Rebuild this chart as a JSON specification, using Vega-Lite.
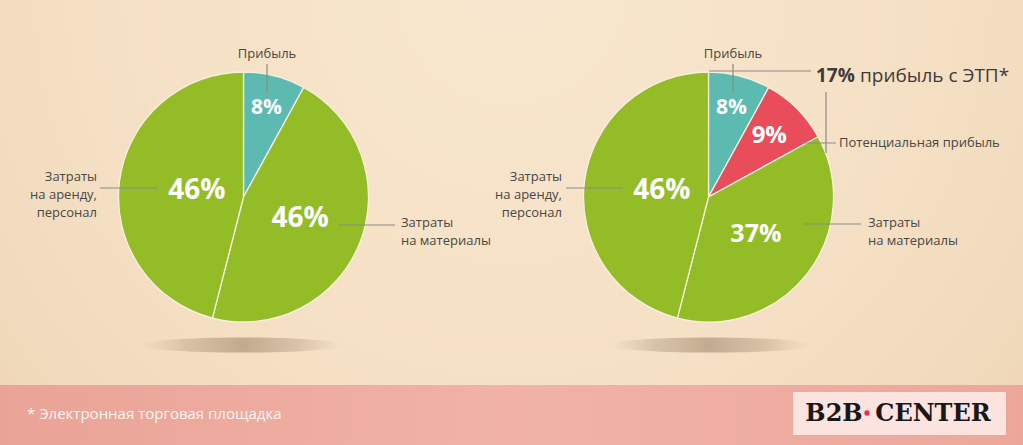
{
  "$schema": "https://vega.github.io/schema/vega-lite/v6.json",
  "width": 1023,
  "height": 445,
  "autosize": {"type": "fit", "contains": "padding"},
  "padding": 0,
  "background": "#F4DFC3",
  "config": {
    "view": {"stroke": null},
    "axis": {"disable": true},
    "legend": {"disable": true}
  },
  "datasets": {
    "slices": [
      {"pie": "before", "category": "Прибыль", "share": 0.08},
      {"pie": "before", "category": "Затраты на материалы", "share": 0.46},
      {"pie": "before", "category": "Затраты на аренду, персонал", "share": 0.46},
      {"pie": "after", "category": "Прибыль", "share": 0.08},
      {"pie": "after", "category": "Потенциальная прибыль", "share": 0.09},
      {"pie": "after", "category": "Затраты на материалы", "share": 0.37},
      {"pie": "after", "category": "Затраты на аренду, персонал", "share": 0.46}
    ],
    "leaders": [
      {"x": 267, "y": 64, "x2": 267, "y2": 93},
      {"x": 100, "y": 188, "x2": 157, "y2": 188},
      {"x": 339, "y": 225, "x2": 395, "y2": 225},
      {"x": 733, "y": 64, "x2": 733, "y2": 93},
      {"x": 709, "y": 71, "x2": 811, "y2": 71},
      {"x": 826, "y": 92, "x2": 826, "y2": 153},
      {"x": 801, "y": 143, "x2": 836, "y2": 143},
      {"x": 566, "y": 188, "x2": 623, "y2": 188},
      {"x": 805, "y": 224, "x2": 861, "y2": 224}
    ],
    "labelsCenter": [
      {"text": "Прибыль", "x": 267, "y": 54},
      {"text": "Прибыль", "x": 733, "y": 54}
    ],
    "labelsRight": [
      {"text": "Затраты\nна аренду,\nперсонал", "x": 97, "y": 177},
      {"text": "Затраты\nна аренду,\nперсонал", "x": 562, "y": 177}
    ],
    "labelsLeft": [
      {"text": "Затраты\nна материалы", "x": 401, "y": 223},
      {"text": "Затраты\nна материалы", "x": 868, "y": 223},
      {"text": "Потенциальная прибыль", "x": 839, "y": 143}
    ],
    "etpBold": [{"text": "17%", "x": 816, "y": 76}],
    "etpRest": [{"text": "прибыль с ЭТП*", "x": 860, "y": 76}],
    "note": [{"text": "* Электронная торговая площадка", "x": 27, "y": 414}],
    "logo": [
      {"text": "B2B", "x": 834, "y": 414},
      {"text": "CENTER", "x": 933, "y": 414}
    ]
  },
  "layer": [
    {
      "data": {"values": [{}]},
      "mark": {"type": "rect", "fill": {"gradient": "radial", "x1": 0.5, "y1": 0.3, "r1": 0, "x2": 0.5, "y2": 0.3, "r2": 0.75, "stops": [{"offset": 0, "color": "#F8E7CE"}, {"offset": 0.6, "color": "#F4DFC3"}, {"offset": 1, "color": "#ECD1B3"}]}},
      "encoding": {
        "x": {"datum": 0, "type": "quantitative", "scale": {"domain": [0, 1023], "nice": false, "zero": false}},
        "x2": {"datum": 1023},
        "y": {"datum": 0, "type": "quantitative", "scale": {"domain": [445, 0], "nice": false, "zero": false}},
        "y2": {"datum": 385}
      }
    },
    {
      "data": {"values": [{}]},
      "mark": {"type": "rect", "fill": {"gradient": "linear", "x1": 0, "y1": 0, "x2": 1, "y2": 0, "stops": [{"offset": 0, "color": "#EAA397"}, {"offset": 0.5, "color": "#F1B2A7"}, {"offset": 1, "color": "#ECA79A"}]}},
      "encoding": {
        "x": {"datum": 0, "type": "quantitative", "scale": {"domain": [0, 1023], "nice": false, "zero": false}},
        "x2": {"datum": 1023},
        "y": {"datum": 385, "type": "quantitative", "scale": {"domain": [445, 0], "nice": false, "zero": false}},
        "y2": {"datum": 445}
      }
    },
    {
      "data": {"values": [{}]},
      "mark": {"type": "rect", "fill": "#FBE4E0"},
      "encoding": {
        "x": {"datum": 793, "type": "quantitative", "scale": {"domain": [0, 1023], "nice": false, "zero": false}},
        "x2": {"datum": 1006},
        "y": {"datum": 392, "type": "quantitative", "scale": {"domain": [445, 0], "nice": false, "zero": false}},
        "y2": {"datum": 435}
      }
    },
    {
      "data": {"values": [{}]},
      "mark": {"type": "point", "filled": true, "size": 41209, "shape": "M-1,0A1,0.075,0,1,0,1,0A1,0.075,0,1,0,-1,0Z", "fill": {"gradient": "radial", "x1": 0.5, "y1": 0.5, "r1": 0, "x2": 0.5, "y2": 0.5, "r2": 0.5, "stops": [{"offset": 0, "color": "rgba(170,148,120,0.7)"}, {"offset": 0.55, "color": "rgba(180,160,132,0.45)"}, {"offset": 1, "color": "rgba(200,180,150,0)"}]}, "strokeWidth": 0, "opacity": 1},
      "encoding": {
        "x": {"datum": 242, "type": "quantitative", "scale": {"domain": [0, 1023], "nice": false, "zero": false}},
        "y": {"datum": 345, "type": "quantitative", "scale": {"domain": [445, 0], "nice": false, "zero": false}}
      }
    },
    {
      "data": {"values": [{}]},
      "mark": {"type": "point", "filled": true, "size": 41209, "shape": "M-1,0A1,0.075,0,1,0,1,0A1,0.075,0,1,0,-1,0Z", "fill": {"gradient": "radial", "x1": 0.5, "y1": 0.5, "r1": 0, "x2": 0.5, "y2": 0.5, "r2": 0.5, "stops": [{"offset": 0, "color": "rgba(170,148,120,0.7)"}, {"offset": 0.55, "color": "rgba(180,160,132,0.45)"}, {"offset": 1, "color": "rgba(200,180,150,0)"}]}, "strokeWidth": 0, "opacity": 1},
      "encoding": {
        "x": {"datum": 710, "type": "quantitative", "scale": {"domain": [0, 1023], "nice": false, "zero": false}},
        "y": {"datum": 345, "type": "quantitative", "scale": {"domain": [445, 0], "nice": false, "zero": false}}
      }
    },
    {
      "data": {"name": "slices"},
      "transform": [{"filter": "datum.pie === 'before'"}],
      "mark": {"type": "arc", "outerRadius": 125, "stroke": "#F7F0E0", "strokeWidth": 1.3},
      "encoding": {
        "x": {"datum": 243.5, "type": "quantitative", "scale": {"domain": [0, 1023], "nice": false, "zero": false}},
        "y": {"datum": 197, "type": "quantitative", "scale": {"domain": [445, 0], "nice": false, "zero": false}},
        "theta": {"field": "share", "type": "quantitative", "stack": true, "scale": {"domain": [0, 1]}},
        "order": {"field": "category", "type": "nominal", "sort": "descending"},
        "color": {"field": "category", "type": "nominal", "scale": {"domain": ["Прибыль", "Потенциальная прибыль", "Затраты на материалы", "Затраты на аренду, персонал"], "range": ["#5CBAB1", "#E94D5B", "#93BC26", "#93BC26"]}, "legend": null}
      }
    },
    {
      "data": {"name": "slices"},
      "transform": [{"filter": "datum.pie === 'after'"}],
      "mark": {"type": "arc", "outerRadius": 125, "stroke": "#F7F0E0", "strokeWidth": 1.3},
      "encoding": {
        "x": {"datum": 708.5, "type": "quantitative", "scale": {"domain": [0, 1023], "nice": false, "zero": false}},
        "y": {"datum": 197, "type": "quantitative", "scale": {"domain": [445, 0], "nice": false, "zero": false}},
        "theta": {"field": "share", "type": "quantitative", "stack": true, "scale": {"domain": [0, 1]}},
        "order": {"field": "category", "type": "nominal", "sort": "descending"},
        "color": {"field": "category", "type": "nominal", "scale": {"domain": ["Прибыль", "Потенциальная прибыль", "Затраты на материалы", "Затраты на аренду, персонал"], "range": ["#5CBAB1", "#E94D5B", "#93BC26", "#93BC26"]}, "legend": null}
      }
    },
    {
      "data": {"name": "leaders"},
      "mark": {"type": "rule", "color": "#8E8984", "strokeWidth": 1.2},
      "encoding": {
        "x": {"field": "x", "type": "quantitative", "scale": {"domain": [0, 1023], "nice": false, "zero": false}},
        "y": {"field": "y", "type": "quantitative", "scale": {"domain": [445, 0], "nice": false, "zero": false}},
        "x2": {"field": "x2"},
        "y2": {"field": "y2"}
      }
    },
    {
      "data": {"name": "slices"},
      "transform": [{"filter": "datum.pie === 'before'"}],
      "mark": {"type": "text", "radius": 92, "font": "Open Sans", "fontWeight": 700, "fontSize": 21, "color": "#ffffff", "align": "center", "baseline": "middle"},
      "encoding": {
        "x": {"datum": 243.5, "type": "quantitative", "scale": {"domain": [0, 1023], "nice": false, "zero": false}},
        "y": {"datum": 197, "type": "quantitative", "scale": {"domain": [445, 0], "nice": false, "zero": false}},
        "theta": {"field": "share", "type": "quantitative", "stack": true, "scale": {"domain": [0, 1]}},
        "order": {"field": "category", "type": "nominal", "sort": "descending"},
        "detail": {"field": "category", "type": "nominal"},
        "text": {"condition": {"test": "datum.category === 'Прибыль'", "field": "share", "type": "quantitative", "format": ".0%"}, "value": ""}
      }
    },
    {
      "data": {"name": "slices"},
      "transform": [{"filter": "datum.pie === 'before'"}],
      "mark": {"type": "text", "radius": 61, "font": "Open Sans", "fontWeight": 700, "fontSize": 28, "color": "#ffffff", "align": "center", "baseline": "middle"},
      "encoding": {
        "x": {"datum": 243.5, "type": "quantitative", "scale": {"domain": [0, 1023], "nice": false, "zero": false}},
        "y": {"datum": 197, "type": "quantitative", "scale": {"domain": [445, 0], "nice": false, "zero": false}},
        "theta": {"field": "share", "type": "quantitative", "stack": true, "scale": {"domain": [0, 1]}},
        "order": {"field": "category", "type": "nominal", "sort": "descending"},
        "detail": {"field": "category", "type": "nominal"},
        "text": {"condition": {"test": "datum.category === 'Затраты на материалы'", "field": "share", "type": "quantitative", "format": ".0%"}, "value": ""}
      }
    },
    {
      "data": {"name": "slices"},
      "transform": [{"filter": "datum.pie === 'before'"}],
      "mark": {"type": "text", "radius": 47, "font": "Open Sans", "fontWeight": 700, "fontSize": 28, "color": "#ffffff", "align": "center", "baseline": "middle"},
      "encoding": {
        "x": {"datum": 243.5, "type": "quantitative", "scale": {"domain": [0, 1023], "nice": false, "zero": false}},
        "y": {"datum": 197, "type": "quantitative", "scale": {"domain": [445, 0], "nice": false, "zero": false}},
        "theta": {"field": "share", "type": "quantitative", "stack": true, "scale": {"domain": [0, 1]}},
        "order": {"field": "category", "type": "nominal", "sort": "descending"},
        "detail": {"field": "category", "type": "nominal"},
        "text": {"condition": {"test": "datum.category === 'Затраты на аренду, персонал'", "field": "share", "type": "quantitative", "format": ".0%"}, "value": ""}
      }
    },
    {
      "data": {"name": "slices"},
      "transform": [{"filter": "datum.pie === 'after'"}],
      "mark": {"type": "text", "radius": 92, "font": "Open Sans", "fontWeight": 700, "fontSize": 21, "color": "#ffffff", "align": "center", "baseline": "middle"},
      "encoding": {
        "x": {"datum": 708.5, "type": "quantitative", "scale": {"domain": [0, 1023], "nice": false, "zero": false}},
        "y": {"datum": 197, "type": "quantitative", "scale": {"domain": [445, 0], "nice": false, "zero": false}},
        "theta": {"field": "share", "type": "quantitative", "stack": true, "scale": {"domain": [0, 1]}},
        "order": {"field": "category", "type": "nominal", "sort": "descending"},
        "detail": {"field": "category", "type": "nominal"},
        "text": {"condition": {"test": "datum.category === 'Прибыль'", "field": "share", "type": "quantitative", "format": ".0%"}, "value": ""}
      }
    },
    {
      "data": {"name": "slices"},
      "transform": [{"filter": "datum.pie === 'after'"}],
      "mark": {"type": "text", "radius": 86, "font": "Open Sans", "fontWeight": 700, "fontSize": 24, "color": "#ffffff", "align": "center", "baseline": "middle"},
      "encoding": {
        "x": {"datum": 708.5, "type": "quantitative", "scale": {"domain": [0, 1023], "nice": false, "zero": false}},
        "y": {"datum": 197, "type": "quantitative", "scale": {"domain": [445, 0], "nice": false, "zero": false}},
        "theta": {"field": "share", "type": "quantitative", "stack": true, "scale": {"domain": [0, 1]}},
        "order": {"field": "category", "type": "nominal", "sort": "descending"},
        "detail": {"field": "category", "type": "nominal"},
        "text": {"condition": {"test": "datum.category === 'Потенциальная прибыль'", "field": "share", "type": "quantitative", "format": ".0%"}, "value": ""}
      }
    },
    {
      "data": {"name": "slices"},
      "transform": [{"filter": "datum.pie === 'after'"}],
      "mark": {"type": "text", "radius": 60, "font": "Open Sans", "fontWeight": 700, "fontSize": 25, "color": "#ffffff", "align": "center", "baseline": "middle"},
      "encoding": {
        "x": {"datum": 708.5, "type": "quantitative", "scale": {"domain": [0, 1023], "nice": false, "zero": false}},
        "y": {"datum": 197, "type": "quantitative", "scale": {"domain": [445, 0], "nice": false, "zero": false}},
        "theta": {"field": "share", "type": "quantitative", "stack": true, "scale": {"domain": [0, 1]}},
        "order": {"field": "category", "type": "nominal", "sort": "descending"},
        "detail": {"field": "category", "type": "nominal"},
        "text": {"condition": {"test": "datum.category === 'Затраты на материалы'", "field": "share", "type": "quantitative", "format": ".0%"}, "value": ""}
      }
    },
    {
      "data": {"name": "slices"},
      "transform": [{"filter": "datum.pie === 'after'"}],
      "mark": {"type": "text", "radius": 47, "font": "Open Sans", "fontWeight": 700, "fontSize": 28, "color": "#ffffff", "align": "center", "baseline": "middle"},
      "encoding": {
        "x": {"datum": 708.5, "type": "quantitative", "scale": {"domain": [0, 1023], "nice": false, "zero": false}},
        "y": {"datum": 197, "type": "quantitative", "scale": {"domain": [445, 0], "nice": false, "zero": false}},
        "theta": {"field": "share", "type": "quantitative", "stack": true, "scale": {"domain": [0, 1]}},
        "order": {"field": "category", "type": "nominal", "sort": "descending"},
        "detail": {"field": "category", "type": "nominal"},
        "text": {"condition": {"test": "datum.category === 'Затраты на аренду, персонал'", "field": "share", "type": "quantitative", "format": ".0%"}, "value": ""}
      }
    },
    {
      "data": {"name": "labelsCenter"},
      "mark": {"type": "text", "font": "Open Sans", "fontSize": 13, "color": "#4A4643", "align": "center", "baseline": "middle"},
      "encoding": {
        "x": {"field": "x", "type": "quantitative", "scale": {"domain": [0, 1023], "nice": false, "zero": false}},
        "y": {"field": "y", "type": "quantitative", "scale": {"domain": [445, 0], "nice": false, "zero": false}},
        "text": {"field": "text", "type": "nominal"}
      }
    },
    {
      "data": {"name": "labelsRight"},
      "mark": {"type": "text", "font": "Open Sans", "fontSize": 13, "color": "#4A4643", "align": "right", "baseline": "middle", "lineBreak": "\n", "lineHeight": 18},
      "encoding": {
        "x": {"field": "x", "type": "quantitative", "scale": {"domain": [0, 1023], "nice": false, "zero": false}},
        "y": {"field": "y", "type": "quantitative", "scale": {"domain": [445, 0], "nice": false, "zero": false}},
        "text": {"field": "text", "type": "nominal"}
      }
    },
    {
      "data": {"name": "labelsLeft"},
      "mark": {"type": "text", "font": "Open Sans", "fontSize": 13, "color": "#4A4643", "align": "left", "baseline": "middle", "lineBreak": "\n", "lineHeight": 18},
      "encoding": {
        "x": {"field": "x", "type": "quantitative", "scale": {"domain": [0, 1023], "nice": false, "zero": false}},
        "y": {"field": "y", "type": "quantitative", "scale": {"domain": [445, 0], "nice": false, "zero": false}},
        "text": {"field": "text", "type": "nominal"}
      }
    },
    {
      "data": {"name": "etpBold"},
      "mark": {"type": "text", "font": "Open Sans", "fontSize": 19, "fontWeight": 700, "color": "#3F3B38", "align": "left", "baseline": "middle"},
      "encoding": {
        "x": {"field": "x", "type": "quantitative", "scale": {"domain": [0, 1023], "nice": false, "zero": false}},
        "y": {"field": "y", "type": "quantitative", "scale": {"domain": [445, 0], "nice": false, "zero": false}},
        "text": {"field": "text", "type": "nominal"}
      }
    },
    {
      "data": {"name": "etpRest"},
      "mark": {"type": "text", "font": "Open Sans", "fontSize": 19, "color": "#3F3B38", "align": "left", "baseline": "middle"},
      "encoding": {
        "x": {"field": "x", "type": "quantitative", "scale": {"domain": [0, 1023], "nice": false, "zero": false}},
        "y": {"field": "y", "type": "quantitative", "scale": {"domain": [445, 0], "nice": false, "zero": false}},
        "text": {"field": "text", "type": "nominal"}
      }
    },
    {
      "data": {"name": "note"},
      "mark": {"type": "text", "font": "Open Sans", "fontSize": 15, "color": "#FFF6F3", "align": "left", "baseline": "middle"},
      "encoding": {
        "x": {"field": "x", "type": "quantitative", "scale": {"domain": [0, 1023], "nice": false, "zero": false}},
        "y": {"field": "y", "type": "quantitative", "scale": {"domain": [445, 0], "nice": false, "zero": false}},
        "text": {"field": "text", "type": "nominal"}
      }
    },
    {
      "data": {"name": "logo"},
      "mark": {"type": "text", "font": "DejaVu Serif", "fontSize": 24, "fontWeight": 700, "color": "#1A1717", "align": "center", "baseline": "middle"},
      "encoding": {
        "x": {"field": "x", "type": "quantitative", "scale": {"domain": [0, 1023], "nice": false, "zero": false}},
        "y": {"field": "y", "type": "quantitative", "scale": {"domain": [445, 0], "nice": false, "zero": false}},
        "text": {"field": "text", "type": "nominal"}
      }
    },
    {
      "data": {"values": [{}]},
      "mark": {"type": "point", "shape": "circle", "filled": true, "size": 28, "color": "#E8304A", "opacity": 1},
      "encoding": {
        "x": {"datum": 867, "type": "quantitative", "scale": {"domain": [0, 1023], "nice": false, "zero": false}},
        "y": {"datum": 413, "type": "quantitative", "scale": {"domain": [445, 0], "nice": false, "zero": false}}
      }
    }
  ]
}
